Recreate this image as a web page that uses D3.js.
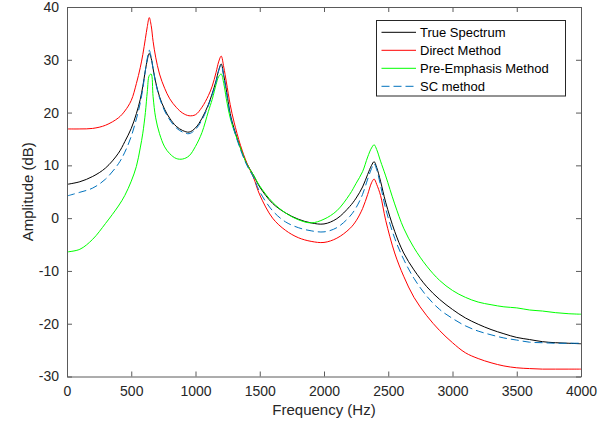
<!DOCTYPE html>
<html>
<head>
<meta charset="utf-8">
<script src="https://cdn.jsdelivr.net/npm/d3@7"></script>
<style>
  body { margin: 0; background: #fff; }
  svg { display: block; font-family: "Liberation Sans", Arial, sans-serif; }
</style>
</head>
<body>
<svg id="chart" width="616" height="430"></svg>
<script>
// frequency grid (Hz), denser around the formant peaks
const freqs = [0, 100, 200, 300, 400, 450, 500, 540, 570, 590, 610, 625, 640, 655, 670, 690, 720, 760, 800, 850,
  900, 950, 1000, 1050, 1100, 1130, 1160, 1180, 1200, 1220, 1240, 1270, 1300, 1350, 1400, 1450, 1500, 1600, 1700, 1800,
  1900, 2000, 2100, 2200, 2250, 2300, 2340, 2370, 2390, 2410, 2440, 2480, 2550, 2620, 2700, 2800, 2900, 3000, 3100, 3200,
  3300, 3400, 3500, 3600, 3700, 3800, 3900, 4000];

// amplitude (dB)
const trueSpectrum = [6.4, 6.9, 7.9, 9.5, 12.3, 14.5, 17.0, 19.8, 22.5, 25.0, 28.0, 30.0, 31.2, 30.3, 28.3, 25.8, 23.0, 20.6, 18.9, 17.4,
  16.6, 16.3, 17.1, 18.9, 21.5, 23.6, 26.0, 28.0, 29.2, 27.0, 24.3, 19.8, 17.0, 13.3, 10.3, 8.2, 5.9, 2.8, 1.0, -0.2,
  -0.9, -1.1, -0.1, 2.2, 3.8, 5.9, 8.3, 10.0, 10.7, 9.6, 7.0, 3.0, -2.5, -6.6, -9.8, -13.0, -15.4, -17.3, -18.9, -20.1,
  -21.1, -21.9, -22.6, -23.0, -23.4, -23.6, -23.7, -23.8];

const directMethod = [16.9, 16.9, 17.0, 17.6, 19.0, 20.3, 22.3, 25.5, 28.5, 31.0, 34.0, 36.3, 38.0, 36.5, 33.5, 30.5, 27.3, 24.6, 22.6, 21.0,
  19.9, 19.4, 19.6, 21.0, 23.2, 25.0, 27.6, 29.6, 30.7, 28.6, 25.8, 21.5, 18.2, 13.8, 10.4, 7.8, 4.4, 0.0, -2.3, -3.7,
  -4.4, -4.6, -3.8, -2.0, -0.5, 1.8, 4.5, 6.7, 7.4, 6.4, 4.3, -0.4, -6.6, -11.0, -15.0, -18.5, -21.3, -23.6, -25.5, -26.6,
  -27.4, -28.0, -28.35, -28.5, -28.6, -28.6, -28.6, -28.6];

const preEmphasis = [-6.4, -5.9, -4.0, -1.0, 2.3, 4.3, 7.0, 9.8, 13.3, 16.1, 20.0, 24.0, 27.0, 27.3, 23.0, 19.0, 16.0, 13.5, 12.2, 11.3,
  11.2, 11.8, 13.6, 16.2, 20.2, 22.5, 25.3, 26.8, 27.3, 25.5, 22.6, 19.0, 16.6, 13.3, 10.2, 8.2, 6.1, 3.0, 1.0, -0.3,
  -0.9, -0.2, 1.4, 4.5, 6.6, 8.8, 11.6, 13.3, 13.9, 13.0, 10.8, 8.0, 2.7, -1.9, -5.6, -9.1, -11.8, -13.7, -15.0, -15.9,
  -16.4, -16.8, -17.0, -17.4, -17.6, -17.9, -18.1, -18.2];

const scMethod = [4.2, 4.9, 5.7, 7.4, 10.3, 12.5, 15.5, 18.8, 21.8, 24.5, 28.0, 30.3, 31.8, 30.5, 28.3, 25.6, 22.8, 20.3, 18.6, 17.1,
  16.3, 16.0, 16.8, 18.6, 21.3, 23.4, 25.8, 27.9, 29.0, 26.8, 24.0, 19.5, 16.7, 13.0, 10.0, 7.8, 5.0, 1.4, -0.7, -1.8,
  -2.4, -2.6, -1.8, 0.3, 2.0, 4.5, 7.4, 9.4, 10.3, 9.2, 6.2, 1.8, -3.8, -7.8, -11.4, -14.8, -17.3, -19.0, -20.4, -21.4,
  -22.1, -22.7, -23.1, -23.5, -23.6, -23.7, -23.7, -23.7];

const seriesNames = ['True Spectrum', 'Direct Method', 'Pre-Emphasis Method', 'SC method'];
const xTicks = [0, 500, 1000, 1500, 2000, 2500, 3000, 3500, 4000];
const yTicks = [-30, -20, -10, 0, 10, 20, 30, 40];

const series = [
  { name: seriesNames[0], values: trueSpectrum, color: '#000000', dash: null },
  { name: seriesNames[1], values: directMethod, color: '#ff0000', dash: null },
  { name: seriesNames[2], values: preEmphasis, color: '#00ff00', dash: null },
  { name: seriesNames[3], values: scMethod, color: '#0072bd', dash: '8,4' }
];

const svg = d3.select('#chart');
const plotL = 67, plotR = 581, plotT = 7, plotB = 376.5;
const axisColor = '#5a5a5a', textColor = '#262626';

const x = d3.scaleLinear().domain([0, 4000]).range([plotL, plotR]);
const y = d3.scaleLinear().domain([-30, 40]).range([plotB, plotT]);

// curves
const line = d3.line()
  .x((d, i) => x(freqs[i]))
  .y(d => y(d))
  .curve(d3.curveCatmullRom.alpha(0.5));

series.forEach(s => {
  svg.append('path')
    .attr('d', line(s.values))
    .attr('fill', 'none')
    .attr('stroke', s.color)
    .attr('stroke-width', 1)
    .attr('stroke-dasharray', s.dash);
});

// axes, ticks inward, box on
const fmt = d => String(d);
svg.append('g').attr('transform', `translate(0,${plotB})`)
  .call(d3.axisBottom(x).tickValues(xTicks).tickFormat(fmt).tickSizeInner(-5).tickSizeOuter(0).tickPadding(10));
svg.append('g').attr('transform', `translate(${plotL},0)`)
  .call(d3.axisLeft(y).tickValues(yTicks).tickFormat(fmt).tickSizeInner(-5).tickSizeOuter(0).tickPadding(8));
svg.append('g').attr('transform', `translate(0,${plotT})`)
  .call(d3.axisTop(x).tickValues(xTicks).tickSizeInner(-5).tickSizeOuter(0).tickFormat(''));
svg.append('g').attr('transform', `translate(${plotR},0)`)
  .call(d3.axisRight(y).tickValues(yTicks).tickSizeInner(-5).tickSizeOuter(0).tickFormat(''));

svg.selectAll('.domain, .tick line').attr('stroke', axisColor);
svg.selectAll('.tick text').attr('fill', textColor).style('font-size', '14px')
  .style('font-family', '"Liberation Sans", Arial, sans-serif');

svg.append('text')
  .attr('x', (plotL + plotR) / 2).attr('y', 415)
  .attr('text-anchor', 'middle').attr('fill', textColor).style('font-size', '15px')
  .text('Frequency (Hz)');
svg.append('text')
  .attr('transform', `translate(33,${(plotT + plotB) / 2}) rotate(-90)`)
  .attr('text-anchor', 'middle').attr('fill', textColor).style('font-size', '15px')
  .text('Amplitude (dB)');

// legend
const legend = svg.append('g');
legend.append('rect')
  .attr('x', 376.5).attr('y', 20.5).attr('width', 189).attr('height', 75.5)
  .attr('fill', '#fff').attr('stroke', '#262626').attr('stroke-width', 1);
series.forEach((s, i) => {
  const ly = 32.3 + i * 18;
  legend.append('line')
    .attr('x1', 381.5).attr('x2', 416).attr('y1', ly).attr('y2', ly)
    .attr('stroke', s.color).attr('stroke-width', 1).attr('stroke-dasharray', s.dash);
  legend.append('text')
    .attr('x', 420).attr('y', ly + 4.5)
    .attr('fill', '#000').style('font-size', '13px')
    .text(s.name);
});
</script>
</body>
</html>
